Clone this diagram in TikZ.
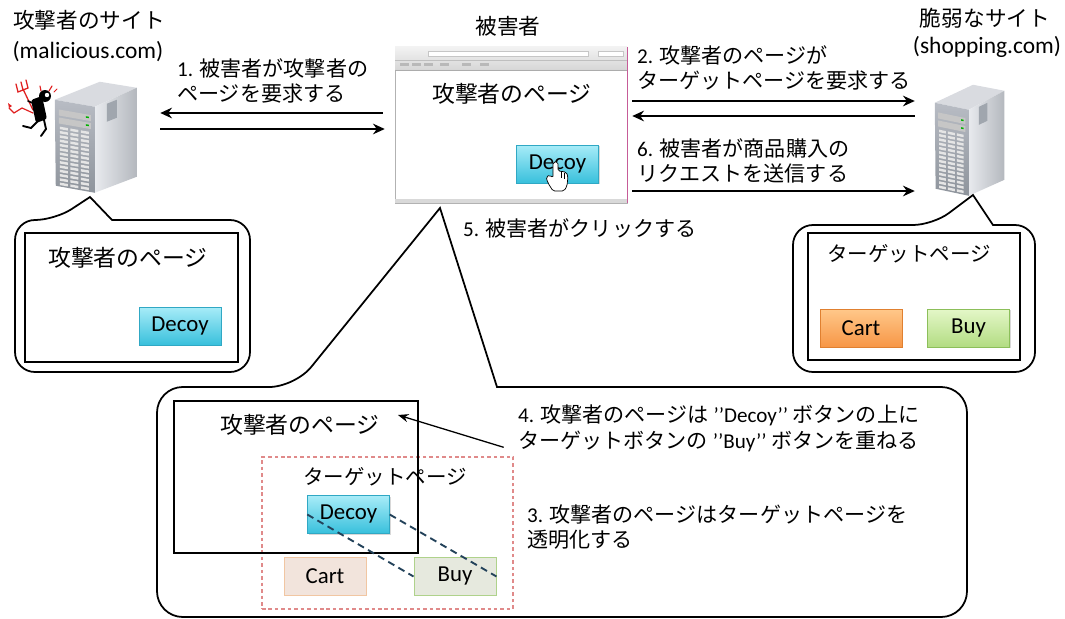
\documentclass[tikz,border=0pt]{standalone}
\usepackage{fontspec}
\setmainfont{Carlito}
\newfontfamily\jp{Noto Sans CJK JP}
\usepackage{tikz}
\usetikzlibrary{arrows.meta,positioning,fit,shadows}

\definecolor{decoytop}{HTML}{A8ECF8}
\definecolor{decoybot}{HTML}{38C0DC}
\definecolor{decoyline}{HTML}{30A8C4}
\definecolor{carttop}{HTML}{FFC88A}
\definecolor{cartbot}{HTML}{F79646}
\definecolor{cartline}{HTML}{E08030}
\definecolor{buytop}{HTML}{E4F7C8}
\definecolor{buybot}{HTML}{B2DC82}
\definecolor{buyline}{HTML}{8CBF5A}
\definecolor{ghostcart}{HTML}{F2E4DC}
\definecolor{ghostbuy}{HTML}{E6E9DE}
\definecolor{pinkline}{HTML}{E08A8A}
\definecolor{linkcol}{HTML}{23425A}
\definecolor{devilred}{HTML}{E02020}
\definecolor{srvtop}{HTML}{D9DBE0}
\definecolor{srvsideL}{HTML}{E8EAEE}
\definecolor{srvsideR}{HTML}{B4B8BE}
\definecolor{srvfrontT}{HTML}{B8BCC4}
\definecolor{srvfrontB}{HTML}{8E949C}
\definecolor{srvvent}{HTML}{A0A6AE}

% tower server, origin at the top-left corner of its box
\tikzset{
  pics/server/.style={code={
    \fill[srvtop] (0,18) -- (45,0) -- (82,6) -- (40,25) -- cycle;
    \shade[left color=srvsideL, right color=srvsideR] (40,25) -- (82,6) -- (82,95) -- (40,111) -- cycle;
    \shade[top color=srvfrontT, bottom color=srvfrontB] (0,18) -- (40,25) -- (40,111) -- (1,104) -- cycle;
    \fill[srvvent] (52,22) -- (62,18) -- (62,36) -- (52,40) -- cycle;
    \begin{scope}[yslant=-0.175]
      \foreach \yy in {27,35} {
        \fill[gray!45] (4,\yy) rectangle (36,\yy+6);
        \fill[green!70!black] (31,\yy+2) rectangle (34,\yy+3.5);
      }
      \foreach \cc in {0,1,2}
        \foreach \rr in {0,...,13}
          \fill[white!80!gray] (5+\cc*10.5,44+\rr*4.3) rectangle (13+\cc*10.5,46.5+\rr*4.3);
    \end{scope}
  }}
}

\begin{document}
\begin{tikzpicture}[
  x=0.03cm, y=-0.03cm,
  lbl/.style={font=\jp\fontsize{18pt}{22pt}\selectfont, align=left, inner sep=0, anchor=west},
  sitettl/.style={font=\jp\fontsize{18.5pt}{22pt}\selectfont, inner sep=0},
  dom/.style={font=\fontsize{20pt}{22pt}\selectfont, inner sep=0},
  pagettl/.style={font=\jp\fontsize{19.5pt}{22pt}\selectfont, inner sep=0},
  tgtttl/.style={font=\jp\fontsize{17.5pt}{22pt}\selectfont, inner sep=0},
  srvbox/.style={inner sep=0},
  frame/.style={draw, line width=1.5pt, inner sep=0},
  bubble/.style={draw, line width=1.5pt, fill=white},
  btnbase/.style={inner sep=0, minimum width=2.46cm, minimum height=1.14cm,
    font=\fontsize{19.5pt}{22pt}\selectfont},
  btn/.style={btnbase, draw,
    drop shadow={shadow xshift=1pt, shadow yshift=-1pt, opacity=0.3}},
  decoy/.style={btn, draw=decoyline, top color=decoytop, bottom color=decoybot},
  cart/.style={btn, draw=cartline, top color=carttop, bottom color=cartbot},
  buy/.style={btn, draw=buyline, top color=buytop, bottom color=buybot},
  ghost/.style={btnbase, draw, line width=0.8pt},
  arr/.style={-{Stealth[length=10pt,width=9pt]}, line width=1.7pt},
  thinarr/.style={-{Stealth[length=9pt,width=7pt]}, line width=1.1pt},
  linkline/.style={draw=linkcol, line width=1.6pt, dash pattern=on 6pt off 4pt},
]
\useasboundingbox (0,0) rectangle (1065,619);

% rows of the arrows between the sites
\coordinate (r1) at (0,113);
\coordinate (r1b) at (0,129);
\coordinate (r2) at (0,101);
\coordinate (r2b) at (0,116);
\coordinate (r6) at (0,191);

% ---- attacker site ----
\node[sitettl] (malT) at (89,20) {攻撃者のサイト};
\node[dom] (malD) at (88,52) {(malicious.com)};
\node[srvbox, fit={(55,82) (137,193)}] (mal) {};
\pic at (mal.north west) {server};

% little devil
\begin{scope}[line cap=round]
  \draw[devilred, line width=1.1pt] (33,110) -- (23,89);
  \draw[devilred, line width=1.1pt] (16,84) -- (18,92) -- (28,88) -- (26,80);
  \draw[devilred, line width=1.1pt] (23,90) -- (21,82);
  \draw[devilred, line width=1pt] (33,113) -- (22,108) -- (14,113) -- (9,108);
  \fill[devilred] (9,108) -- (8,103) -- (12,106) -- cycle;
  \fill[rounded corners=2pt] (31,100) -- (42,96) -- (47,119) -- (36,123) -- cycle;
  \fill (45,96) circle[radius=6];
  \fill[white] (47,95) circle[radius=2.2];
  \draw[devilred, line width=1pt] (41,91) -- (40,86);
  \draw[devilred, line width=1pt] (49,91) -- (52,86);
  \draw[devilred, line width=0.8pt] (54,92) -- (57,89);
  \draw[line width=1.6pt] (38,121) -- (31,128) -- (23,126);
  \draw[line width=1.6pt] (44,120) -- (46,129) -- (41,136);
  \draw[line width=1.4pt] (35,104) -- (28,101);
\end{scope}

% ---- vulnerable site ----
\node[sitettl] (shopT) at (985,18) {脆弱なサイト};
\node[dom] (shopD) at (987,47) {(shopping.com)};
\node[srvbox, fit={(935,85) (1005,196)}] (shop) {};
\pic[xscale=0.85] at (shop.north west) {server};

% ---- victim's browser ----
\node[sitettl] (vicT) at (508,26) {被害者};
\node[draw=gray!60, fill=white, inner sep=0, fit={(395,47) (627,203)}] (browser) {};
\shade[top color=gray!10, bottom color=gray!32] (395,47) rectangle (627,70);
\draw[gray!45, fill=white] (428,51) rectangle (588,56);
\draw[gray!45, fill=white] (598,51) rectangle (623,56);
\draw[gray!50] (395,60) -- (627,60);
\foreach \xx in {400,412,424,440,462,480} \fill[gray!55] (\xx,63) rectangle (\xx+9,66);
\draw[gray!65] (395,70) -- (627,70);
\fill[gray!30] (395,199) rectangle (627,203);
\draw[magenta!55!gray, line width=0.6pt] (627,47) -- (627,203);
\node[pagettl] (vicP) at (512,94) {攻撃者のページ};
\node[decoy] (decoyA) at (557.5,164) {Decoy};
% pointer hand
\draw[fill=white, line width=0.6pt, rounded corners=1.5pt]
  (553,178) -- (553,162) -- (558,162) -- (558,171) -- (566,172) -- (568,176)
  -- (567,186) -- (564,191) -- (553,191) -- (548,183) -- (546,177) -- (550,175) -- cycle;
\draw[line width=0.4pt] (561,172) -- (561,178) (564,173) -- (564,179);

% ---- requests ----
\node[lbl] (lbl1) at (177,81) {\textrm{1.} 被害者が攻撃者の\\ページを要求する};
\draw[arr, shorten <=0.36cm, shorten >=0.69cm] (browser.west |- r1) -- (mal.east |- r1);
\draw[arr, shorten <=0.69cm, shorten >=0.3cm] (mal.east |- r1b) -- (browser.west |- r1b);

\node[lbl] (lbl2) at (637,68) {\textrm{2.} 攻撃者のページが\\ターゲットページを要求する};
\draw[arr, shorten <=0.15cm, shorten >=0.6cm] (browser.east |- r2) -- (shop.west |- r2);
\draw[arr, shorten <=0.6cm, shorten >=0.15cm] (shop.west |- r2b) -- (browser.east |- r2b);

\node[lbl] (lbl6) at (637,161) {\textrm{6.} 被害者が商品購入の\\リクエストを送信する};
\draw[arr, shorten <=0.15cm, shorten >=0.6cm] (browser.east |- r6) -- (shop.west |- r6);

\node[lbl] (lbl5) at (463,228) {\textrm{5.} 被害者がクリックする};

% ---- callout: attacker's page ----
\draw[bubble] (112,220) [rounded corners=17pt] -- (250,220) -- (250,372) -- (15,372)
  -- (15,220) -- (55,220) [sharp corners] -- (90,197) -- cycle;
\node[frame, fit={(25,233) (238,362)}] (evilL) {};
\node[pagettl] (evilLT) at (128,258) {攻撃者のページ};
\node[decoy] (decoyL) at (180,326) {Decoy};

% ---- callout: target page ----
\draw[bubble] (993,225) [rounded corners=17pt] -- (1035,225) -- (1035,372) -- (793,372)
  -- (793,225) -- (933,225) [sharp corners] -- (973,195) -- cycle;
\node[frame, fit={(808,233) (1020,360)}] (tgtR) {};
\node[tgtttl] (tgtRT) at (909,254) {ターゲットページ};
\node[cart] (cartR) at (861,328) {Cart};
\node[buy] (buyR) at (968.5,328) {Buy};

% ---- callout: what the victim really sees ----
\draw[bubble] (497,387) [rounded corners=22pt] -- (967,387) -- (967,617) -- (157,617)
  -- (157,387) -- (295,387) [sharp corners] -- (440,208) -- cycle;
\node[draw=pinkline, line width=0.9pt, dash pattern=on 3pt off 2.5pt, inner sep=0,
  fit={(262,457) (513,609)}] (tgtB) {};
\node[frame, fit={(174,401) (418,553)}] (evilB) {};
\node[pagettl] (evilBT) at (300,425) {攻撃者のページ};
\node[tgtttl] (tgtBT) at (385,477) {ターゲットページ};
\node[decoy] (decoyB) at (348.5,514.5) {Decoy};
\node[ghost, draw=cartline!45, fill=ghostcart] (cartB) at (325,576.5) {Cart};
\node[ghost, draw=buyline!70, fill=ghostbuy] (buyB) at (455,576.5) {Buy};
\draw[linkline] (decoyB.west) -- (buyB.west);
\draw[linkline] (decoyB.east) -- (buyB.east);

\node[lbl] (lbl4) at (518,428) {\textrm{4.} 攻撃者のページは \textrm{’’Decoy’’} ボタンの上に\\ターゲットボタンの \textrm{’’Buy’’} ボタンを重ねる};
\draw[thinarr, shorten <=0.45cm] (lbl4.south west) -- ([shift={(18,-10)}]evilBT.east);

\node[lbl] (lbl3) at (527,527) {\textrm{3.} 攻撃者のページはターゲットページを\\透明化する};
\end{tikzpicture}
\end{document}
